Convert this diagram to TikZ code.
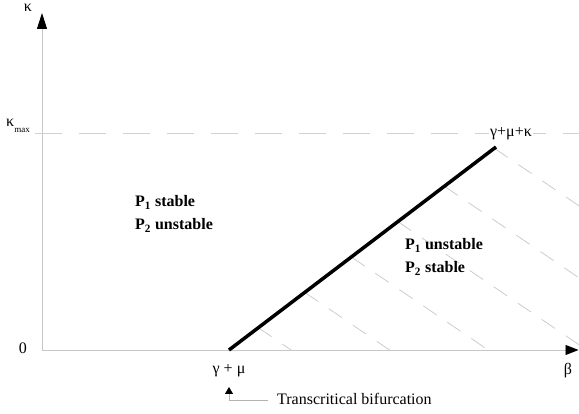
\documentclass[tikz,border=0pt]{standalone}
\usepackage{fontspec}
\setmainfont{Liberation Serif}
\usetikzlibrary{arrows.meta}
\begin{document}
\begin{tikzpicture}[x=1pt,y=1pt,
  axis/.style={draw=black!22, line width=0.9pt},
  hatch/.style={draw=black!20, line width=0.8pt, dash pattern=on 16pt off 13pt},
  kdash/.style={draw=black!18, line width=0.8pt, dash pattern=on 27pt off 17pt},
  lbl/.style={font=\fontsize{16}{19}\selectfont, inner sep=0pt, anchor=base},
  reg/.style={font=\fontsize{16}{19}\selectfont\bfseries, inner sep=0pt, anchor=base west},
]
\useasboundingbox (0,0) rectangle (579,414);
% axes
\coordinate (O) at (42,64);
\coordinate (ytip) at (42,401);
\coordinate (xtip) at (578.5,64);
\draw[axis, -{Triangle[length=16pt,width=10pt,color=black]}] (O) -- (ytip);
\draw[axis, -{Triangle[length=13pt,width=10pt,color=black]}] (O) -- (xtip);
% kappa max dashed line
\coordinate (km1) at (35,281);
\coordinate (km2) at (579,281);
\draw[kdash] (km1) -- (km2);
% hatching
\begin{scope}
\clip (42,64.5) rectangle (579,414);
\foreach \x/\y in {494.4/265.7, 444.4/227.7, 397.9/192.4, 351.4/157.0, 304.8/121.6, 258.3/86.3}{
  \draw[hatch] (\x,\y) -- ++(300,-204);
}
\end{scope}
% main line
\coordinate (tc) at (229,64);
\coordinate (tend) at (496,267);
\draw[line width=3.5pt] (tc) -- (tend);
% labels
\node[lbl] (kap) at (28,402) {κ};
\node[lbl, anchor=base west] (kmax) at (6,287) {κ\raisebox{-6pt}{\fontsize{9}{9}\selectfont max}};
\node[lbl] (zero) at (23,60) {0};
\node[lbl] (gm) at (229,40) {γ + μ};
\node[lbl] (beta) at (568,39) {β};
\node[lbl, fill=white, inner sep=1.5pt] (gmk) at (511,277) {γ+μ+κ};
\node[reg] (r1a) at (135,207) {P\textsubscript{1} stable};
\node[reg] (r1b) at (135,184) {P\textsubscript{2} unstable};
\node[reg] (r2a) at (405,164) {P\textsubscript{1} unstable};
\node[reg] (r2b) at (405,141) {P\textsubscript{2} stable};
\node[lbl, anchor=base west] (tb) at (277,9) {Transcritical bifurcation};
\coordinate (tbtip) at (229,27);
\draw[draw=black!30, line width=0.8pt, -{Triangle[length=7pt,width=8pt,color=black]}] ([xshift=-9pt,yshift=5pt]tb.base west) -| (tbtip);
\end{tikzpicture}
\end{document}
